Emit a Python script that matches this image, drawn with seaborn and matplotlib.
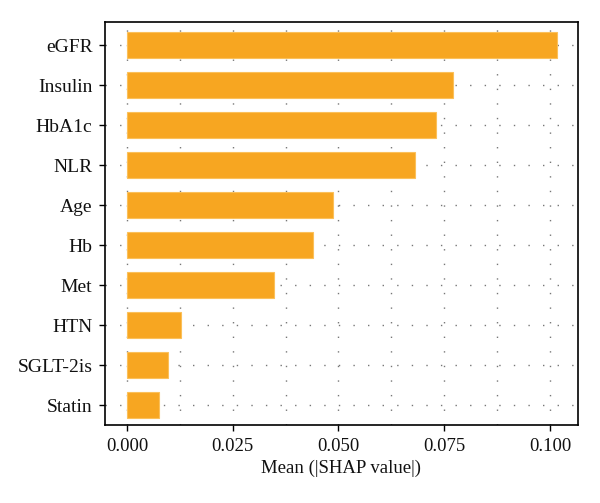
import matplotlib
matplotlib.use('Agg')
import matplotlib.pyplot as plt
import seaborn as sns
import pandas as pd
from matplotlib.ticker import MultipleLocator

features = ['eGFR', 'Insulin', 'HbA1c', 'NLR', 'Age', 'Hb', 'Met', 'HTN', 'SGLT-2is', 'Statin']
mean_shap = [0.1017, 0.0770, 0.0731, 0.0682, 0.0486, 0.0440, 0.0347, 0.0127, 0.0096, 0.0075]

df = pd.DataFrame({'feature': features, 'value': mean_shap})

sns.set_style('ticks')
plt.rcParams['font.family'] = ['Liberation Serif', 'DejaVu Serif']

fig = plt.figure(figsize=(6, 5.03), dpi=100)
ax = fig.add_axes([0.175, 0.155, 0.788, 0.801])

# Bar chart of mean absolute SHAP values
sns.barplot(data=df, x='value', y='feature', color='#F7A621', saturation=1,
            width=0.65, edgecolor='#FBC05A', linewidth=0.8, ax=ax, zorder=3)

ax.set_xlim(-0.0052, 0.1066)
ax.set_ylim(9.5, -0.575)
ax.xaxis.set_major_locator(MultipleLocator(0.025))
ax.xaxis.set_minor_locator(MultipleLocator(0.0125))
ax.xaxis.set_major_formatter(plt.FormatStrFormatter('%.3f'))

# Dotted grid
ax.grid(True, which='both', axis='x', color='#777777', linestyle=(0, (1, 9.5)), linewidth=1, zorder=0)
ax.grid(True, axis='y', color='#777777', linestyle=(0, (1, 9.5)), linewidth=1, zorder=0)
ax.tick_params(axis='x', which='minor', length=0)
ax.tick_params(axis='both', which='major', length=4, width=1, color='black', pad=5)
ax.tick_params(axis='y', labelsize=14, labelcolor='#111111')
ax.tick_params(axis='x', labelsize=13.5, labelcolor='#111111')

for s in ax.spines.values():
    s.set_linewidth(1.2)
    s.set_color('black')

ax.set_xlabel('Mean (|SHAP value|)', fontsize=13.5, labelpad=4, color='#111111')
ax.set_ylabel('')

plt.savefig('out.png', dpi=100)
